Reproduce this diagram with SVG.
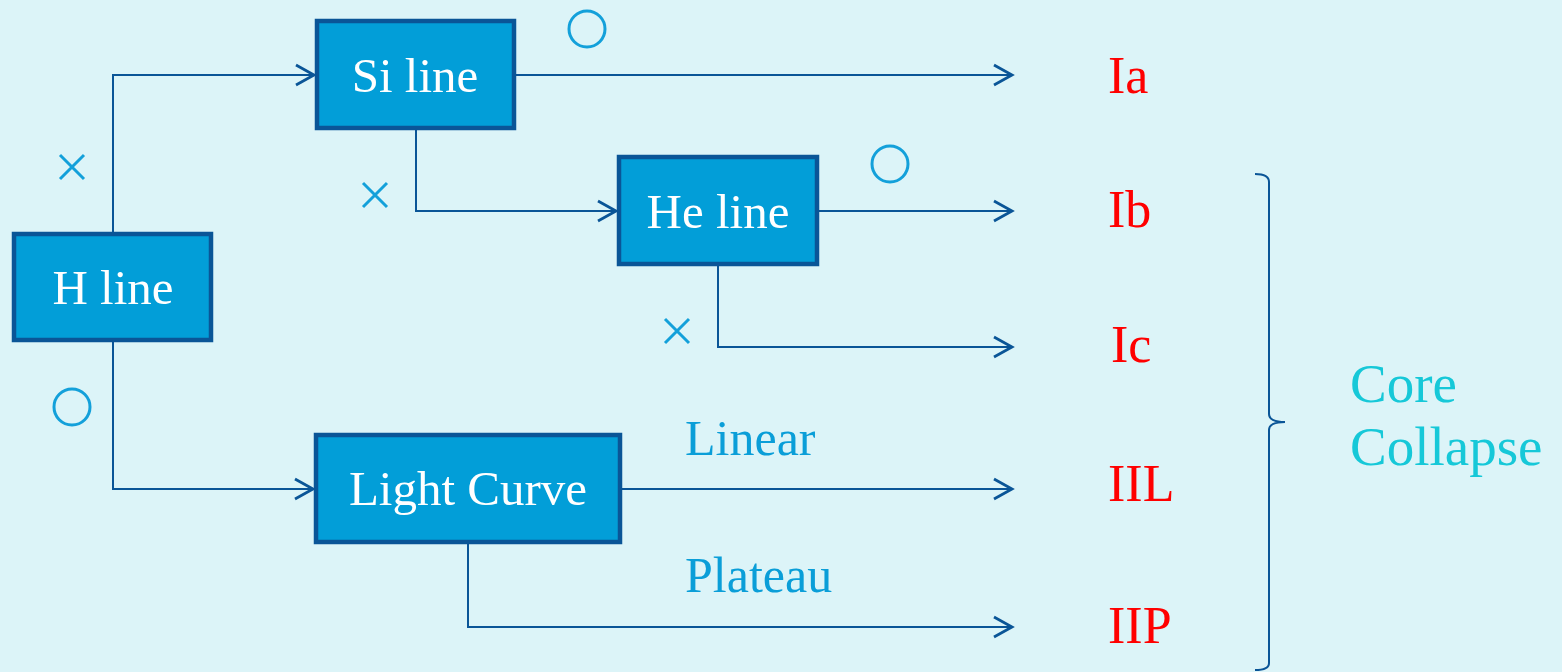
<svg xmlns="http://www.w3.org/2000/svg" width="1562" height="672" viewBox="0 0 1562 672">
  <style>
    .box { fill: #029ED8; stroke: #0A5597; stroke-width: 4.5; }
    .boxtext { font-family: "Liberation Serif", "DejaVu Serif", serif; font-size: 49px; fill: #ffffff; text-anchor: middle; }
    .conn { fill: none; stroke: #0A5597; stroke-width: 2; }
    .mark { fill: none; stroke: #13A0DA; stroke-width: 3; }
    .type { font-family: "Liberation Serif", "DejaVu Serif", serif; font-size: 52px; fill: #FF0000; }
    .cond { font-family: "Liberation Serif", "DejaVu Serif", serif; font-size: 50px; fill: #0A9ED8; }
    .group { font-family: "Liberation Serif", "DejaVu Serif", serif; font-size: 55px; fill: #16C8D8; }
  </style>
  <defs>
    <marker id="arrow" markerWidth="24" markerHeight="26" refX="20" refY="13" orient="auto" markerUnits="userSpaceOnUse">
      <path d="M2,3 L20,13 L2,23" fill="none" stroke="#0A5597" stroke-width="2.8"/>
    </marker>
  </defs>
  <rect width="1562" height="672" fill="#DCF4F8"/>

  <!-- connectors -->
  <g id="connectors">
    <polyline class="conn" points="113,233 113,75 314,75" marker-end="url(#arrow)"/>
    <polyline class="conn" points="113,341 113,489 313,489" marker-end="url(#arrow)"/>
    <polyline class="conn" points="416,129 416,211 616,211" marker-end="url(#arrow)"/>
    <polyline class="conn" points="515,75 1012,75" marker-end="url(#arrow)"/>
    <polyline class="conn" points="818,211 1012,211" marker-end="url(#arrow)"/>
    <polyline class="conn" points="718,265 718,347 1012,347" marker-end="url(#arrow)"/>
    <polyline class="conn" points="621,489 1012,489" marker-end="url(#arrow)"/>
    <polyline class="conn" points="468,543 468,627 1012,627" marker-end="url(#arrow)"/>
  </g>

  <!-- yes / no marks -->
  <g id="marks">
    <path class="mark" d="M60,155 L84,179 M84,155 L60,179"/>
    <path class="mark" d="M363,183 L387,207 M387,183 L363,207"/>
    <path class="mark" d="M665,319 L689,343 M689,319 L665,343"/>
    <circle class="mark" cx="587" cy="29" r="18"/>
    <circle class="mark" cx="890" cy="164" r="18"/>
    <circle class="mark" cx="72" cy="407" r="18"/>
  </g>

  <g id="node-h">
    <rect class="box" x="14" y="234" width="197" height="106"/>
    <text class="boxtext" x="113" y="304">H line</text>
  </g>
  <g id="node-si">
    <rect class="box" x="317" y="21" width="197" height="107"/>
    <text class="boxtext" x="415" y="92">Si line</text>
  </g>
  <g id="node-he">
    <rect class="box" x="619" y="157" width="198" height="107"/>
    <text class="boxtext" x="718" y="228">He line</text>
  </g>
  <g id="node-lc">
    <rect class="box" x="316" y="435" width="304" height="107"/>
    <text class="boxtext" x="468" y="505">Light Curve</text>
  </g>

  <!-- branch conditions -->
  <g id="conditions">
    <text class="cond" x="685" y="455">Linear</text>
    <text class="cond" x="685" y="592">Plateau</text>
  </g>

  <!-- supernova types -->
  <g id="types">
    <text class="type" x="1108" y="93">Ia</text>
    <text class="type" x="1108" y="227">Ib</text>
    <text class="type" x="1111" y="362">Ic</text>
    <text class="type" x="1108" y="501">IIL</text>
    <text class="type" x="1108" y="643">IIP</text>
  </g>

  <!-- core collapse brace -->
  <g id="core-collapse">
    <path class="conn" d="M1255,174 Q1269,174 1269,182 L1269,414 Q1269,422 1285,422 Q1269,422 1269,430 L1269,663 Q1269,670 1255,670"/>
    <text class="group" x="1350" y="402">Core</text>
    <text class="group" x="1350" y="465">Collapse</text>
  </g>
</svg>
